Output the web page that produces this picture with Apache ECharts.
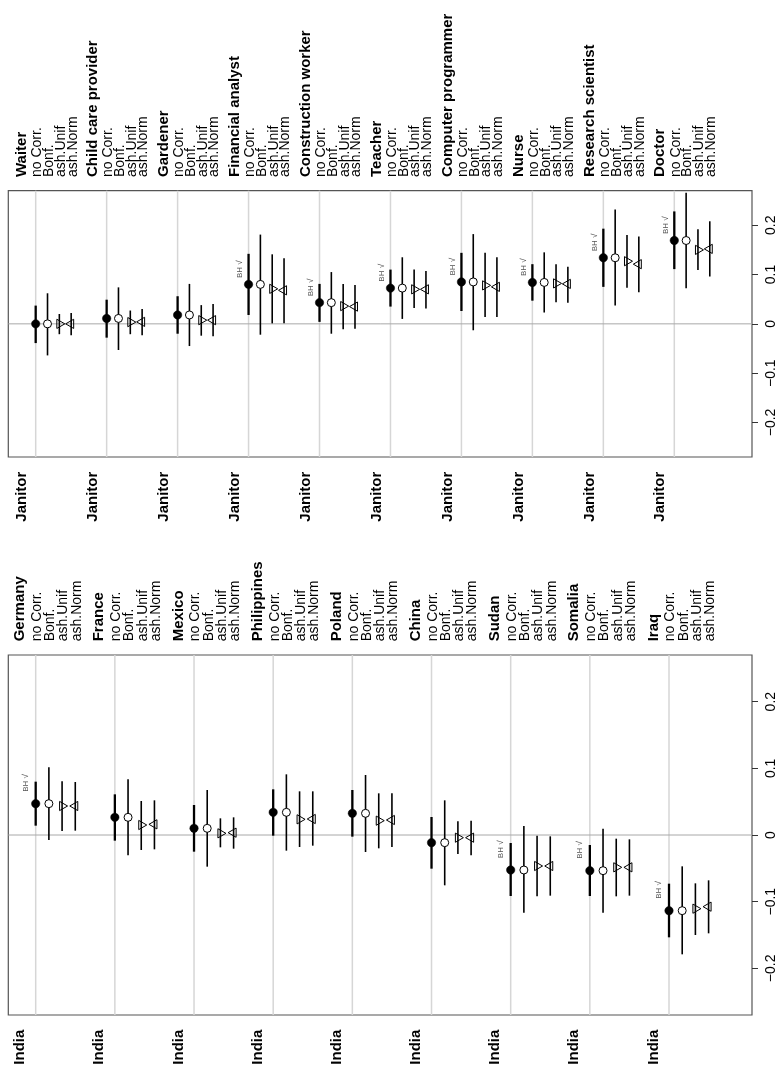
<!DOCTYPE html>
<html>
<head>
<meta charset="utf-8">
<script src="https://cdn.jsdelivr.net/npm/echarts@6/dist/echarts.min.js"></script>
<style>
html,body{margin:0;padding:0;background:#fff;}
#chart{width:778px;height:1075px;}
</style>
</head>
<body>
<div id="chart"></div>
<script>
// ---------- data ----------
const methodLabels = ['no Corr.', 'Bonf.', 'ash.Unif', 'ash.Norm'];
const tickValues = [-0.2, -0.1, 0, 0.1, 0.2];

const topBase = 'Janitor';
const topGroups = ['Waiter', 'Child care provider', 'Gardener', 'Financial analyst', 'Construction worker',
  'Teacher', 'Computer programmer', 'Nurse', 'Research scientist', 'Doctor'];
// [estimate, lower, upper]
const topNoCorr = [
  [0.000, -0.039, 0.037], [0.011, -0.028, 0.049], [0.018, -0.020, 0.056], [0.080, 0.018, 0.142],
  [0.043, 0.004, 0.081], [0.0725, 0.035, 0.110], [0.085, 0.026, 0.144], [0.084, 0.047, 0.121],
  [0.134, 0.075, 0.193], [0.169, 0.111, 0.228]];
const topBonf = [
  [0.000, -0.064, 0.062], [0.011, -0.053, 0.074], [0.018, -0.045, 0.081], [0.080, -0.022, 0.181],
  [0.043, -0.020, 0.105], [0.0725, 0.010, 0.135], [0.085, -0.013, 0.182], [0.084, 0.023, 0.145],
  [0.134, 0.037, 0.232], [0.169, 0.072, 0.266]];
const topAshUnif = [
  [0.000, -0.021, 0.020], [0.0035, -0.021, 0.027], [0.0075, -0.024, 0.038], [0.071, 0.001, 0.141],
  [0.036, -0.011, 0.081], [0.070, 0.032, 0.110], [0.078, 0.014, 0.144], [0.082, 0.044, 0.121],
  [0.127, 0.073, 0.180], [0.150, 0.109, 0.192]];
const topAshNorm = [
  [0.000, -0.023, 0.022], [0.004, -0.023, 0.030], [0.0075, -0.025, 0.040], [0.068, 0.001, 0.133],
  [0.035, -0.010, 0.079], [0.070, 0.031, 0.107], [0.075, 0.014, 0.135], [0.081, 0.043, 0.116],
  [0.121, 0.064, 0.177], [0.152, 0.096, 0.208]];
const topBH = [0, 0, 0, 1, 1, 1, 1, 1, 1, 1];

const botBase = 'India';
const botGroups = ['Germany', 'France', 'Mexico', 'Philippines', 'Poland', 'China', 'Sudan', 'Somalia', 'Iraq'];
const botNoCorr = [
  [0.047, 0.014, 0.080], [0.0265, -0.0085, 0.061], [0.010, -0.025, 0.045], [0.034, -0.001, 0.0685],
  [0.0325, -0.0025, 0.0675], [-0.0115, -0.0505, 0.027], [-0.0525, -0.0915, -0.012],
  [-0.0535, -0.0915, -0.015], [-0.1135, -0.1535, -0.073]];
const botBonf = [
  [0.047, -0.0075, 0.1015], [0.0265, -0.0305, 0.0835], [0.010, -0.0475, 0.0675], [0.034, -0.0235, 0.091],
  [0.0325, -0.0255, 0.090], [-0.0115, -0.0755, 0.052], [-0.0525, -0.1165, 0.0135],
  [-0.0535, -0.1165, 0.0095], [-0.1135, -0.179, -0.047]];
const botAshUnif = [
  [0.0435, 0.006, 0.0805], [0.015, -0.0225, 0.051], [0.0025, -0.0185, 0.025], [0.0235, -0.018, 0.0655],
  [0.0215, -0.020, 0.0625], [-0.004, -0.0285, 0.0205], [-0.0465, -0.092, -0.001],
  [-0.0485, -0.092, -0.0055], [-0.1105, -0.150, -0.0725]];
const botAshNorm = [
  [0.0435, 0.0065, 0.0795], [0.016, -0.0215, 0.052], [0.0035, -0.0205, 0.0265], [0.024, -0.016, 0.0655],
  [0.0225, -0.018, 0.0625], [-0.004, -0.0305, 0.0215], [-0.0465, -0.091, -0.002],
  [-0.0485, -0.091, -0.0065], [-0.1075, -0.1475, -0.068]];
const botBH = [1, 0, 0, 0, 0, 0, 1, 1, 1];

// ---------- layout / style ----------
const FONT = '"Liberation Sans", Arial, Helvetica, sans-serif';
const Y_MIN = -0.27, Y_MAX = 0.27;
const GROUP_STEP = 6;
const panels = [
  { groups: topGroups, base: topBase, methods: [topNoCorr, topBonf, topAshUnif, topAshNorm], bh: topBH,
    grid: { left: 8.3, top: 190.7, width: 744, height: 266.3 }, xMin: -2.316, xMax: 60.57 },
  { groups: botGroups, base: botBase, methods: [botNoCorr, botBonf, botAshUnif, botAshNorm], bh: botBH,
    grid: { left: 8.3, top: 655, width: 744, height: 360 }, xMin: -2.076, xMax: 54.29 }
];

function fmt(v) {
  if (v === 0) return '0';
  return (v < 0 ? '\u2212' : '') + String(Math.round(Math.abs(v) * 10) / 10);
}

function renderGridLine(params, api) {
  const x = api.value(0);
  const a = api.coord([x, Y_MAX]);
  const b = api.coord([x, Y_MIN]);
  return { type: 'line', shape: { x1: a[0], y1: a[1], x2: b[0], y2: b[1] },
    style: { stroke: '#d6d6d6', lineWidth: 1.5 } };
}
function makeZeroRenderer(xMin, xMax) {
  return function (params, api) {
    const a = api.coord([xMin, 0]);
    const b = api.coord([xMax, 0]);
    return { type: 'line', shape: { x1: a[0], y1: a[1], x2: b[0], y2: b[1] },
      style: { stroke: '#a8a8a8', lineWidth: 1 } };
  };
}
function makeEstRenderer(m) {
  return function (params, api) {
    const x = api.value(0);
    const c = api.coord([x, api.value(1)]);
    const lo = api.coord([x, api.value(2)]);
    const hi = api.coord([x, api.value(3)]);
    const children = [{ type: 'line', shape: { x1: c[0], y1: lo[1], x2: c[0], y2: hi[1] },
      style: { stroke: '#000', lineWidth: m === 0 ? 2.3 : 1.6 } }];
    const cx = c[0], cy = c[1];
    if (m === 0) {
      children.push({ type: 'circle', shape: { cx, cy, r: 4.2 }, style: { fill: '#000', stroke: '#000', lineWidth: 0.5 } });
    } else if (m === 1) {
      children.push({ type: 'circle', shape: { cx, cy, r: 4 }, style: { fill: '#fff', stroke: '#000', lineWidth: 1 } });
    } else if (m === 2) {
      children.push({ type: 'polygon', shape: { points: [[cx - 2.5, cy - 4.6], [cx - 2.5, cy + 4.6], [cx + 5.5, cy]] },
        style: { fill: 'rgba(0,0,0,0)', stroke: '#000', lineWidth: 1 } });
    } else {
      children.push({ type: 'polygon', shape: { points: [[cx + 2.5, cy - 4.6], [cx + 2.5, cy + 4.6], [cx - 5.5, cy]] },
        style: { fill: 'rgba(0,0,0,0)', stroke: '#000', lineWidth: 1 } });
    }
    return { type: 'group', children };
  };
}
function makeLabelRenderer(groups, base) {
  return function (params, api) {
    const gx = api.value(0);
    const k = params.dataIndex;
    const topY = api.coord([gx, Y_MAX])[1] - 13.7;
    const botY = api.coord([gx, Y_MIN])[1] + 14.7;
    const unit = api.coord([gx + 1, 0])[0] - api.coord([gx, 0])[0];
    const tx = api.coord([gx, 0])[0] - 1.18 * unit;
    const children = [];
    children.push({ type: 'text', x: tx, y: topY, rotation: Math.PI / 2,
      style: { text: groups[k], fill: '#000', fontSize: 15, fontWeight: 'bold', fontFamily: FONT, align: 'left', verticalAlign: 'middle' } });
    for (let m = 0; m < 4; m++) {
      const mx = api.coord([gx + m, 0])[0] + 1.5;
      children.push({ type: 'text', x: mx, y: topY, rotation: Math.PI / 2,
        style: { text: methodLabels[m], fill: '#000', fontSize: 14, fontFamily: FONT, align: 'left', verticalAlign: 'middle' } });
    }
    children.push({ type: 'text', x: tx, y: botY, rotation: Math.PI / 2,
      style: { text: base, fill: '#000', fontSize: 15, fontWeight: 'bold', fontFamily: FONT, align: 'right', verticalAlign: 'middle' } });
    return { type: 'group', children };
  };
}
function renderBH(params, api) {
  const p = api.coord([api.value(0), api.value(1)]);
  return { type: 'text', x: p[0], y: p[1], rotation: Math.PI / 2,
    style: { text: 'BH \u221A', fill: '#555', fontSize: 8, fontFamily: FONT, align: 'center', verticalAlign: 'middle' } };
}

const grids = [], xAxes = [], yAxes = [], series = [];
panels.forEach((p, pi) => {
  grids.push(Object.assign({ show: true, borderColor: '#555', borderWidth: 1.2, backgroundColor: 'transparent' }, p.grid));
  xAxes.push({ type: 'value', gridIndex: pi, min: p.xMin, max: p.xMax, show: false,
    axisLine: { show: false, onZero: false }, axisTick: { show: false }, axisLabel: { show: false }, splitLine: { show: false } });
  yAxes.push({ type: 'value', gridIndex: pi, position: 'right', min: Y_MIN, max: Y_MAX,
    axisLine: { show: false, onZero: false }, splitLine: { show: false },
    axisTick: { show: true, inside: false, length: 6, customValues: tickValues, lineStyle: { color: '#333', width: 1 } },
    axisLabel: { show: true, rotate: 90, margin: 12, customValues: tickValues, formatter: fmt,
      fontSize: 14, fontFamily: FONT, color: '#000' } });
  const gpos = p.groups.map((g, k) => [k * GROUP_STEP]);
  series.push({ type: 'custom', xAxisIndex: pi, yAxisIndex: pi, data: gpos, renderItem: renderGridLine, z: 1, silent: true });
  series.push({ type: 'custom', xAxisIndex: pi, yAxisIndex: pi, data: [[0]], renderItem: makeZeroRenderer(p.xMin, p.xMax), z: 2, silent: true });
  p.methods.forEach((arr, m) => {
    series.push({ type: 'custom', xAxisIndex: pi, yAxisIndex: pi, z: 3, silent: true,
      data: arr.map((d, k) => [k * GROUP_STEP + m, d[0], d[1], d[2]]),
      renderItem: makeEstRenderer(m) });
  });
  series.push({ type: 'custom', xAxisIndex: pi, yAxisIndex: pi, data: gpos, z: 4, silent: true,
    renderItem: makeLabelRenderer(p.groups, p.base), clip: false });
  const bhData = [];
  p.bh.forEach((f, k) => { if (f) bhData.push([k * GROUP_STEP - 0.75, p.methods[0][k][0] + 0.031]); });
  series.push({ type: 'custom', xAxisIndex: pi, yAxisIndex: pi, data: bhData, z: 4, silent: true, renderItem: renderBH, clip: false });
});

const chart = echarts.init(document.getElementById('chart'), null, { renderer: 'canvas' });
chart.setOption({
  animation: false,
  backgroundColor: '#fff',
  grid: grids,
  xAxis: xAxes,
  yAxis: yAxes,
  series: series
});
</script>
</body>
</html>
